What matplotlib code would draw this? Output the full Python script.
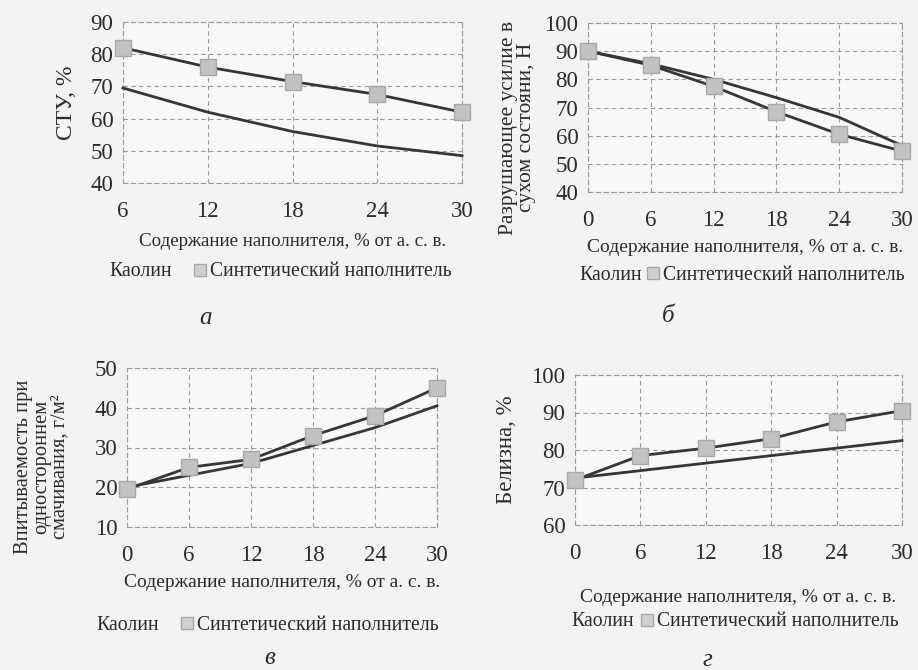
import matplotlib
matplotlib.use("Agg")
import matplotlib.pyplot as plt
from matplotlib.lines import Line2D

plt.rcParams['font.family'] = ['Liberation Serif', 'DejaVu Serif']

# ---- data ----
x_a = [6, 12, 18, 24, 30]
kaolin_a = [69.5, 62.0, 56.0, 51.5, 48.5]
synth_a = [82.0, 76.0, 71.5, 67.5, 62.0]

x_b = [0, 6, 12, 18, 24, 30]
kaolin_b = [90.0, 85.5, 80.0, 73.5, 66.5, 56.5]
synth_b = [90.0, 85.0, 77.5, 68.5, 60.5, 54.5]

x_c = [0, 6, 12, 18, 24, 30]
kaolin_c = [20.0, 23.0, 26.0, 30.5, 35.0, 40.5]
synth_c = [19.5, 25.0, 27.0, 33.0, 38.0, 45.0]

x_d = [0, 6, 12, 18, 24, 30]
kaolin_d = [72.5, 74.5, 76.5, 78.5, 80.5, 82.5]
synth_d = [72.0, 78.5, 80.5, 83.0, 87.5, 90.5]

xlabel = "Содержание наполнителя, % от а. с. в."
legend_labels = ["Каолин", "Синтетический наполнитель"]
ylabels = ["СТУ, %",
           "Разрушающее усилие в\nсухом состояни, Н",
           "Впитываемость при\nодностороннем\nсмачивания, г/м²",
           "Белизна, %"]
captions = ["а", "б", "в", "г"]

W, H = 918, 670
BG = '#f3f3f3'
TXT = '#2b2b2b'
LINE = '#363636'

fig = plt.figure(figsize=(W / 100, H / 100), dpi=100, facecolor=BG)


def add_ax(left, top, right, bottom):
    return fig.add_axes([left / W, 1 - bottom / H, (right - left) / W, (bottom - top) / H])


def style(ax, xs, xlim, ylim, yticks):
    ax.set_facecolor('#f8f8f8')
    ax.set_xlim(*xlim)
    ax.set_ylim(*ylim)
    ax.set_xticks(xs)
    ax.set_yticks(yticks)
    ax.grid(True, linestyle=(0, (4, 3)), color='#9a9a9a', linewidth=0.8)
    for s in ax.spines.values():
        s.set_linestyle((0, (4, 3)))
        s.set_color('#9a9a9a')
        s.set_linewidth(0.8)
    ax.tick_params(length=0, labelsize=16.5, colors=TXT, pad=7)
    ax.tick_params(axis='x', pad=13)


def draw(ax, xs, k, s):
    ax.plot(xs, k, color=LINE, lw=2.0, clip_on=False, zorder=3)
    ax.plot(xs, s, color=LINE, lw=2.0, marker='s', markersize=11,
            markerfacecolor='#c2c2c2', markeredgecolor='#a8a8a8', clip_on=False, zorder=4)


def legend(x, y, gap=0.6):
    handles = [Line2D([], [], color='none'),
               Line2D([], [], ls='none', marker='s', markersize=9,
                      markerfacecolor='#cfcfcf', markeredgecolor='#a8a8a8')]
    fig.legend(handles, legend_labels, loc='center', bbox_to_anchor=(x / W, 1 - y / H),
               ncol=2, frameon=False, fontsize=14.2, handlelength=0.7, handletextpad=0.15,
               columnspacing=gap, labelcolor=TXT)


# panel a
ax = add_ax(123, 22, 462, 183)
style(ax, x_a, (6, 30), (40, 90), range(40, 91, 10))
draw(ax, x_a, kaolin_a, synth_a)
ax.set_xlabel(xlabel, fontsize=13.6, color=TXT, labelpad=8)
ax.set_ylabel(ylabels[0], fontsize=17, color=TXT, labelpad=10)
legend(272, 272, gap=1.1)
fig.text(205 / W, 1 - 318 / H, captions[0], fontsize=18, style='italic', color=TXT, ha='center', va='center')

# panel b
ax = add_ax(588, 23, 902, 192)
style(ax, x_b, (0, 30), (40, 100), range(40, 101, 10))
draw(ax, x_b, kaolin_b, synth_b)
ax.set_xlabel(xlabel, fontsize=14, color=TXT, labelpad=6)
ax.set_ylabel(ylabels[1], fontsize=15.5, color=TXT, labelpad=6, linespacing=0.95)
ax.yaxis.set_label_coords(-0.165, 0.38)
legend(734, 275, gap=0.2)
fig.text(668 / W, 1 - 316 / H, captions[1], fontsize=18, style='italic', color=TXT, ha='center', va='center')

# panel c
ax = add_ax(127, 368, 437, 527)
style(ax, x_c, (0, 30), (10, 50), range(10, 51, 10))
draw(ax, x_c, kaolin_c, synth_c)
ax.set_xlabel(xlabel, fontsize=14, color=TXT, labelpad=6)
ax.set_ylabel(ylabels[2], fontsize=14.8, color=TXT, labelpad=4, linespacing=0.95)
ax.yaxis.set_label_coords(-0.185, 0.38)
legend(259, 625, gap=1.1)
fig.text(270 / W, 1 - 658 / H, captions[2], fontsize=18, style='italic', color=TXT, ha='center', va='center')

# panel d
ax = add_ax(575, 375, 902, 525)
style(ax, x_d, (0, 30), (60, 100), range(60, 101, 10))
draw(ax, x_d, kaolin_d, synth_d)
ax.set_xlabel(xlabel, fontsize=14, color=TXT, labelpad=18)
ax.set_ylabel(ylabels[3], fontsize=16.5, color=TXT, labelpad=10)
legend(727, 622, gap=0.3)
fig.text(707 / W, 1 - 660 / H, captions[3], fontsize=18, style='italic', color=TXT, ha='center', va='center')

fig.savefig("out.png", dpi=100, facecolor=BG)
